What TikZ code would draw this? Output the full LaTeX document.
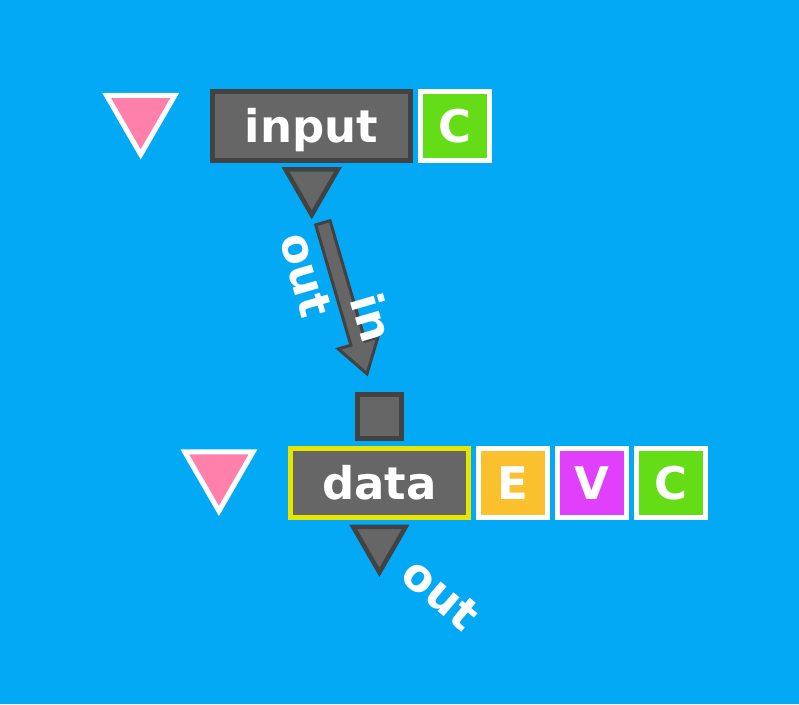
\documentclass[tikz,border=0pt]{standalone}
\usepackage{fontspec}
\setmainfont{DejaVu Sans}
\usetikzlibrary{shapes.geometric,calc}

\definecolor{bgblue}{HTML}{03A9F4}
\definecolor{mgray}{HTML}{666666}
\definecolor{dgray}{HTML}{424242}
\definecolor{dyellow}{HTML}{E6E600}
\definecolor{tagorange}{HTML}{FBC02D}
\definecolor{tagmagenta}{HTML}{E040FB}
\definecolor{taggreen}{HTML}{64DD17}
\definecolor{pinkfill}{HTML}{FF80AB}

\newcommand{\boxfont}{\fontsize{33.75}{40}\selectfont\bfseries}

\tikzset{every picture/.style={line width=0.75pt}}

\begin{document}
\begin{tikzpicture}[x=0.75pt,y=0.75pt,yscale=-1,xscale=1,
	blk/.style={draw=dgray,fill=mgray,line width=3.4pt,text=white,font=\boxfont,minimum height=51.75pt,inner sep=0pt,text height=24.6pt,text depth=0pt},
	tag/.style={draw=white,line width=3.75pt,text=white,font=\boxfont,minimum width=51.75pt,minimum height=51.75pt,inner sep=0pt,text height=24.6pt,text depth=0pt},
	pinktri/.style={regular polygon,regular polygon sides=3,shape border rotate=180,draw=white,fill=pinkfill,line width=3.75pt,minimum size=59.25pt,inner sep=0pt},
	porttri/.style={regular polygon,regular polygon sides=3,shape border rotate=180,draw=dgray,fill=mgray,line width=3.4pt,minimum size=45.5pt,inner sep=0pt},
	portsq/.style={draw=dgray,fill=mgray,line width=3.4pt,minimum size=33pt,inner sep=0pt},
	arrowbody/.style={draw=dgray,fill=mgray,line width=2.25pt},
	lbl/.style={text=white,font=\boxfont}]
	\useasboundingbox (0,0) rectangle (799,704);
	%Shape: Background
	\fill [bgblue] (0,0) rectangle (799,704);
	
	%Shape: input row
	\draw (140.7,115) node [pinktri] (ipin) {};
	\draw (311.5,126) node [blk,minimum width=148.5pt] (input) {input};
	\draw (455,126) node [tag,fill=taggreen] (ictag) {C};
	\draw (311.7,184.5) node [porttri] (iout) {};
	
	%Shape: data row
	\draw (379.5,416.5) node [portsq] (dsq) {};
	\draw (218.9,471.5) node [pinktri] (dpin) {};
	\draw (379.3,483) node [blk,draw=dyellow,line width=3.75pt,minimum width=133.9pt] (data) {data};
	\draw (513,483) node [tag,fill=tagorange] (detag) {E};
	\draw (592,483) node [tag,fill=tagmagenta] (dvtag) {V};
	\draw (671,483) node [tag,fill=taggreen] (dctag) {C};
	\draw (379.4,542) node [porttri] (dout) {};
	
	%Arrow: input out -> data in
	\coordinate (arrS) at ($(iout)!0.165!(dsq)$);
	\coordinate (arrE) at ($(iout)!0.816!(dsq)$);
	\coordinate (arrH) at ($(arrE)!24pt!(arrS)$);
	\draw [arrowbody] ($(arrS)!5.6pt!90:(arrE)$) -- ($(arrH)!5.6pt!90:(arrE)$) -- ($(arrH)!15.5pt!90:(arrE)$) -- (arrE) -- ($(arrH)!15.5pt!-90:(arrE)$) -- ($(arrH)!5.6pt!-90:(arrE)$) -- ($(arrS)!5.6pt!-90:(arrE)$) -- cycle;
	
	% Text Node
	\node [lbl,rotate=-73.7] (arrout) at ($(arrS)!0.289!(arrE)!23.2pt!90:(arrE)$) {out};
	% Text Node
	\node [lbl,rotate=-73.7] (arrin) at ($(arrS)!0.668!(arrE)!16.1pt!-90:(arrE)$) {in};
	% Text Node
	\node [lbl,rotate=-40] (dlbl) at ($(dout)+(61.6,52)$) {out};
	
\end{tikzpicture}
\end{document}
